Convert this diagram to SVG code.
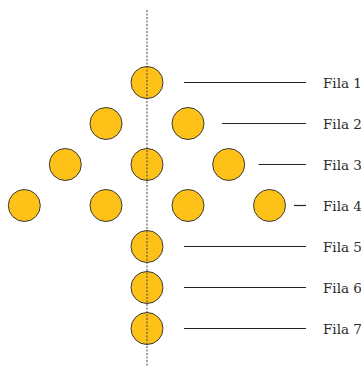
<svg xmlns="http://www.w3.org/2000/svg" width="361" height="367" viewBox="0 0 361 367">
<style>
.c{fill:#FDC117;stroke:#3a3a3a;stroke-width:1}
.l{stroke:#222;stroke-width:1.2}
.t{font-family:"DejaVu Serif","Liberation Serif",serif;font-size:13.5px;fill:#2a2a2a}
</style>
<rect width="361" height="367" fill="#fff"/>
<g id="balls">
<circle class="c" cx="147" cy="82.5" r="16"/>
<circle class="c" cx="106" cy="123.5" r="16"/>
<circle class="c" cx="188" cy="123.5" r="16"/>
<circle class="c" cx="65.3" cy="164.5" r="16"/>
<circle class="c" cx="147" cy="164.5" r="16"/>
<circle class="c" cx="228.7" cy="164.5" r="16"/>
<circle class="c" cx="24.3" cy="205.5" r="16"/>
<circle class="c" cx="106" cy="205.5" r="16"/>
<circle class="c" cx="188" cy="205.5" r="16"/>
<circle class="c" cx="269.5" cy="205.5" r="16"/>
<circle class="c" cx="147" cy="246.5" r="16"/>
<circle class="c" cx="147" cy="287.5" r="16"/>
<circle class="c" cx="147" cy="328.5" r="16"/>
</g>
<g id="axis">
<line x1="147" y1="10" x2="147" y2="367" stroke="#444" stroke-width="1" stroke-dasharray="2 1.5"/>
</g>
<g id="connectors">
<line class="l" x1="184" y1="82.5" x2="306" y2="82.5"/>
<line class="l" x1="222" y1="123.5" x2="306" y2="123.5"/>
<line class="l" x1="258.7" y1="164.5" x2="306" y2="164.5"/>
<line class="l" x1="294" y1="205.5" x2="306" y2="205.5"/>
<line class="l" x1="184" y1="246.5" x2="306" y2="246.5"/>
<line class="l" x1="184" y1="287.5" x2="306" y2="287.5"/>
<line class="l" x1="184" y1="328.5" x2="306" y2="328.5"/>
</g>
<g id="labels">
<text class="t" x="323" y="87.5">Fila 1</text>
<text class="t" x="323" y="128.5">Fila 2</text>
<text class="t" x="323" y="169.5">Fila 3</text>
<text class="t" x="323" y="210.5">Fila 4</text>
<text class="t" x="323" y="251.5">Fila 5</text>
<text class="t" x="323" y="292.5">Fila 6</text>
<text class="t" x="323" y="333.5">Fila 7</text>
</g>
</svg>
